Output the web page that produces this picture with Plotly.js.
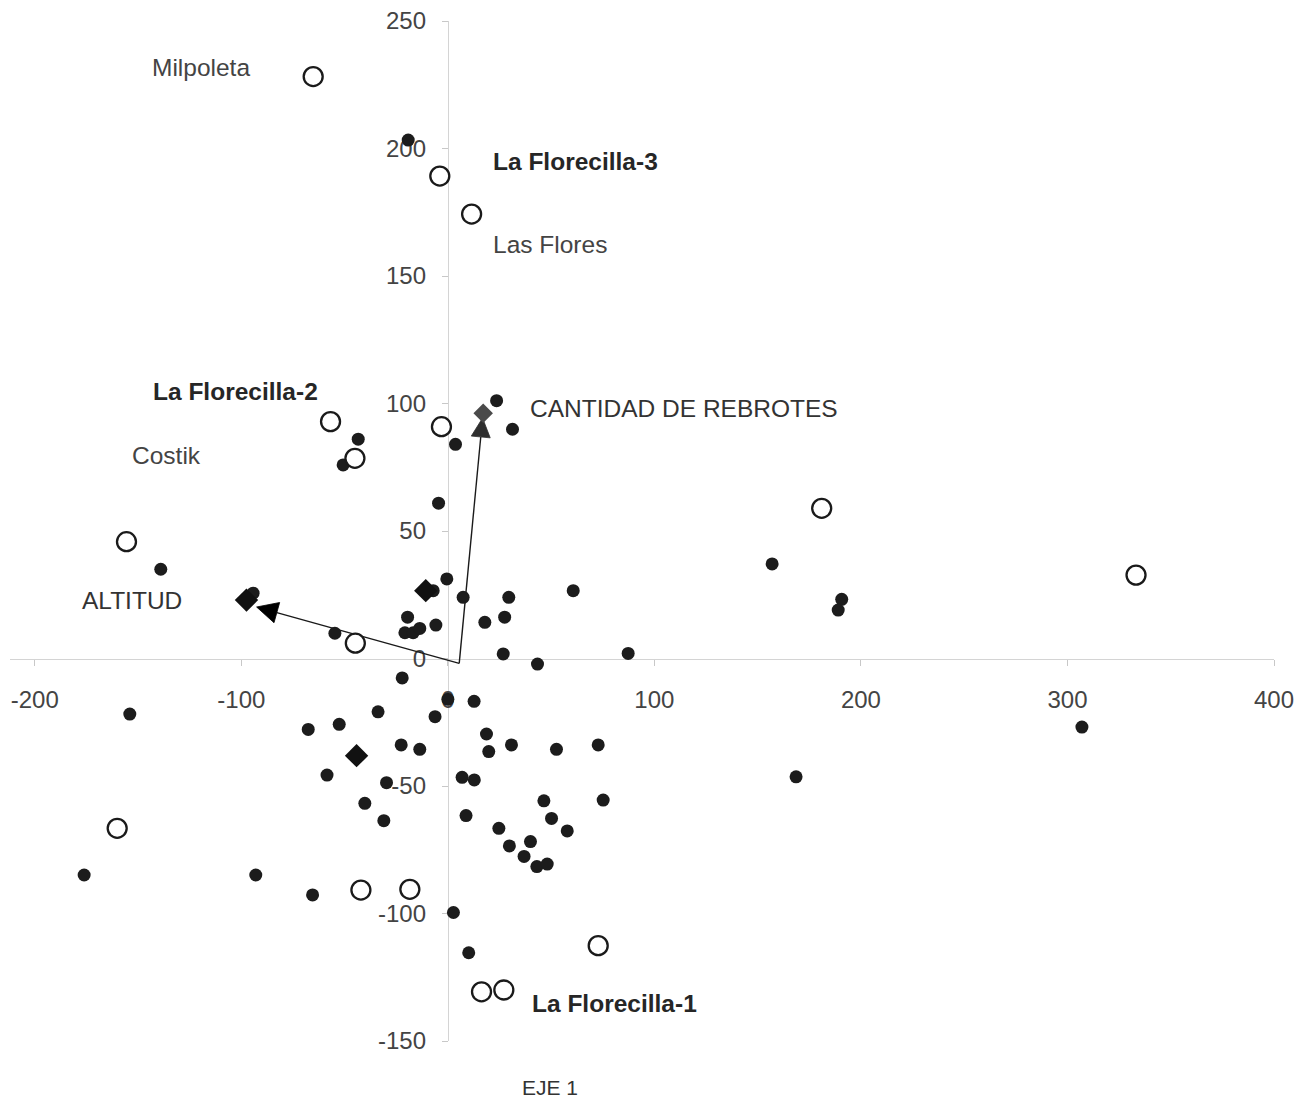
<!DOCTYPE html>
<html><head><meta charset="utf-8">
<script src="https://cdn.plot.ly/plotly-3.0.1.min.js"></script>
<style>html,body{margin:0;padding:0;background:#fff}#chart{width:1309px;height:1101px}</style>
</head><body><div id="chart"></div>
<script>
// ---- data (EJE 1 / EJE 2 scores) ----
const filledX = [-43.4,-50.7,3.7,23.6,31.3,-4.5,-0.5,-7.1,7.4,29.5,60.7,-19.5,27.5,17.9,-5.8,-20.8,-16.8,-13.6,-54.7,26.8,43.4,87.3,-22.1,157.0,190.7,189.0,307.0,168.6,-139.0,-94.3,-154.0,-67.6,-52.6,-33.8,-58.5,-29.7,-40.2,-31.0,-176.1,-93.0,-65.5,0.0,12.7,-6.2,18.7,19.8,30.8,-22.6,-13.6,6.9,12.8,8.8,24.7,29.8,40.0,36.9,43.1,48.1,2.7,10.1,52.6,72.8,46.5,75.2,50.2,57.8,-19.2];
const filledY = [86.0,75.9,84.0,101.1,89.9,60.9,31.2,26.6,24.0,24.0,26.6,16.2,16.2,14.2,13.1,10.1,10.1,11.8,9.9,1.8,-2.2,2.0,-7.6,37.1,23.2,19.0,-26.9,-46.4,35.0,25.6,-21.8,-27.8,-25.8,-20.9,-45.7,-48.7,-56.8,-63.6,-84.9,-84.9,-92.7,-16.0,-16.8,-22.8,-29.6,-36.5,-33.9,-33.9,-35.6,-46.6,-47.6,-61.6,-66.6,-73.5,-71.8,-77.6,-81.6,-80.6,-99.6,-115.4,-35.6,-33.9,-55.8,-55.5,-62.7,-67.6,203.3];
const openX = [-65.2,-3.9,11.5,-56.8,-45.0,-3.1,-155.6,-44.8,181.0,333.2,-160.1,-42.1,-18.4,72.8,16.3,27.1];
const openY = [228.2,189.2,174.3,92.9,78.5,90.9,45.8,6.0,58.9,32.7,-66.6,-90.8,-90.5,-112.6,-130.7,-130.0];
const diamondX = [-97.5,-10.7,-44.2];
const diamondY = [22.9,26.6,-38.1];
const grayDiamondX = [17.1];
const grayDiamondY = [96.2];
const vectorNames = ['ALTITUD','CANTIDAD DE REBROTES'];
const vectorOriginX = 5.5;
const vectorOriginY = -1.9;
const vectorTipX = [-92.6, 16.8];
const vectorTipY = [20.2, 94.3];
const xTicks = [-200,-100,0,100,200,300,400];
const yTicks = [-150,-100,-50,0,50,100,150,200,250];

const FONT = 'Liberation Sans, Arial, sans-serif';
const traces = [];
const vecColors = ['#000000','#2e2e2e'];
const vecSizes = [21,19];
vectorNames.forEach((n,i)=>{
  traces.push({
    type:'scatter', mode:'lines+markers', name:n, hoverinfo:'skip',
    x:[vectorOriginX, vectorTipX[i]], y:[vectorOriginY, vectorTipY[i]],
    line:{color:'#1a1a1a', width:1.4},
    marker:{symbol:'arrow-up', angleref:'previous', size:[0, vecSizes[i]], color:vecColors[i], opacity:1, line:{width:0.8, color:vecColors[i]}}
  });
});
traces.push({type:'scatter', mode:'markers', x:filledX, y:filledY,
  marker:{symbol:'circle', size:13, color:'#1c1c1c', line:{width:0}}});
traces.push({type:'scatter', mode:'markers', x:openX, y:openY,
  marker:{symbol:'circle', size:19, color:'#ffffff', line:{width:2.3, color:'#1a1a1a'}}});
traces.push({type:'scatter', mode:'markers', x:diamondX, y:diamondY,
  marker:{symbol:'diamond', size:18, color:'#111111', line:{width:0}}});
traces.push({type:'scatter', mode:'markers', x:grayDiamondX, y:grayDiamondY,
  marker:{symbol:'diamond', size:15, color:'#4a4a4a', line:{width:0}}});

function lab(text,x,y,bold,color){
  return {text: bold?'<b>'+text+'</b>':text, x:x, y:y, xref:'x', yref:'y', xanchor:'left', yanchor:'middle',
    showarrow:false, font:{family:FONT, size:24.5, color:color}};
}
const annotations = [
  lab('Milpoleta',-144.3,231.6,false,'#444'),
  lab('La Florecilla-3',20.8,195.1,true,'#262626'),
  lab('Las Flores',20.8,162.2,false,'#444'),
  lab('La Florecilla-2',-143.8,104.9,true,'#262626'),
  lab('Costik',-154.0,79.8,false,'#444'),
  lab('ALTITUD',-178.2,22.9,false,'#333'),
  lab('CANTIDAD DE REBROTES',38.7,98.2,false,'#333'),
  lab('La Florecilla-1',39.7,-135.1,true,'#262626'),
  {text:'EJE 1', xref:'paper', yref:'paper', x:0.4272, y:-0.046, xanchor:'center', yanchor:'middle',
   showarrow:false, font:{family:FONT, size:21, color:'#333'}}
];

const layout = {
  width:1309, height:1101,
  margin:{l:10, r:35, t:21, b:60},
  paper_bgcolor:'#fff', plot_bgcolor:'#fff',
  showlegend:false, hovermode:false,
  font:{family:FONT},
  xaxis:{range:[-212,400], anchor:'free', position:0.375, showgrid:false, zeroline:false,
    showline:true, linecolor:'#d4d4d4', linewidth:1.5, ticks:'outside', ticklen:6, tickcolor:'#c8c8c8',
    tickvals:xTicks, ticktext:xTicks.map(String), tickfont:{size:24, color:'#444', family:FONT},
    ticklabelstandoff:13, layer:'below traces', fixedrange:true},
  yaxis:{range:[-150,250], anchor:'free', position:212/612, showgrid:false, zeroline:false,
    showline:true, linecolor:'#d4d4d4', linewidth:1.5, ticks:'outside', ticklen:6, tickcolor:'#c8c8c8',
    tickvals:yTicks, ticktext:yTicks.map(String), tickfont:{size:24, color:'#444', family:FONT},
    ticklabelstandoff:11, layer:'below traces', fixedrange:true},
  annotations: annotations
};
Plotly.newPlot('chart', traces, layout, {displayModeBar:false, staticPlot:true});
</script></body></html>
